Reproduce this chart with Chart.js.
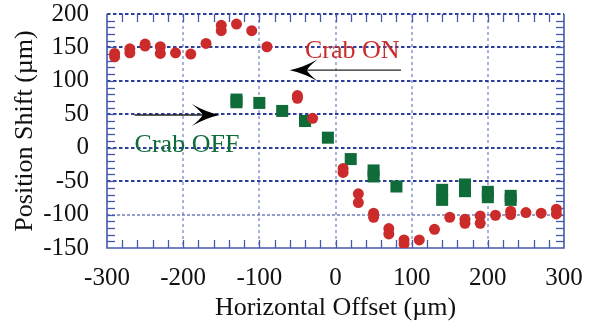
<!DOCTYPE html>
<html>
<head>
<meta charset="utf-8">
<script src="https://cdn.jsdelivr.net/npm/chart.js@4.4.1/dist/chart.umd.min.js"></script>
<style>
  html, body { margin: 0; padding: 0; background: #fff; }
</style>
</head>
<body>
<canvas id="c" width="596" height="326"></canvas>
<script>
// ── data (µm) ──
const crabOnX = [-290, -290, -270, -270, -250, -250, -230, -230, -210, -190, -170, -150, -150, -130, -110, -90,
                 -50, -50, -30, 10, 10, 30, 30, 50, 50, 70, 70, 90, 90, 110, 130, 150, 170, 170, 190, 190,
                 210, 230, 230, 250, 270, 290, 290];
const crabOnY = [141, 136, 148, 142, 155, 152, 151, 141, 142, 140, 156, 183, 175, 185, 175, 151,
                 78, 74, 44, -31, -37, -69, -82, -98, -104, -121, -129, -138, -144, -138, -122, -104, -107, -113, -102, -113,
                 -101, -95, -100, -97, -98, -92, -99];

const crabOffX = [-130, -130, -100, -70, -40, -10, 20, 50, 50, 80, 140, 140, 170, 170, 200, 200, 230, 230];
const crabOffY = [72, 68, 67, 55, 40, 15, -17, -34, -43, -58, -63, -78, -55, -65, -66, -74, -72, -78];

const xTicks = [-300, -200, -100, 0, 100, 200, 300];
const yTicks = [-150, -100, -50, 0, 50, 100, 150, 200];

// annotations: label text, anchor (centre x, baseline y) and arrows (from -> to)
const labelText = ['Crab ON', 'Crab OFF'];
const labelX = [22, -195];
const labelY = [134, -7];
const arrowFromX = [86, -264];
const arrowToX = [-60, -152];
const arrowY = [116, 49];

const RED = '#cc2b2b';
const GREEN = '#0f6b38';
const FONT = '"Liberation Serif", "Times New Roman", serif';

const toPts = (xs, ys) => xs.map((x, i) => ({ x, y: ys[i] }));

function line(ctx, x1, y1, x2, y2) {
  ctx.beginPath();
  ctx.moveTo(x1, y1);
  ctx.lineTo(x2, y2);
  ctx.stroke();
}

// grid, frame and minor ticks, drawn from the scales
const framePlugin = {
  id: 'frame',
  beforeDatasetsDraw(chart) {
    const { ctx, chartArea: a, scales: { x, y } } = chart;
    ctx.save();
    // light vertical dashed grid
    ctx.strokeStyle = '#a7b2de';
    ctx.lineWidth = 2;
    ctx.setLineDash([3, 3]);
    for (const v of xTicks.slice(1, -1)) {
      const px = Math.round(x.getPixelForValue(v));
      line(ctx, px, a.top, px, a.bottom);
    }
    // dark horizontal dashed grid
    ctx.strokeStyle = '#2c3f9c';
    for (const v of yTicks.slice(1)) {
      const py = Math.round(y.getPixelForValue(v));
      ctx.lineWidth = v === -100 ? 1.2 : 2.2;
      ctx.setLineDash(v === -100 ? [3, 2] : [3.5, 2.5]);
      line(ctx, a.left, py, a.right, py);
    }
    // solid frame (left, bottom, right)
    ctx.setLineDash([]);
    ctx.strokeStyle = '#4458ab';
    ctx.lineWidth = 1.6;
    ctx.beginPath();
    ctx.moveTo(a.left, a.top);
    ctx.lineTo(a.left, a.bottom);
    ctx.lineTo(a.right, a.bottom);
    ctx.lineTo(a.right, a.top);
    ctx.stroke();
    // minor ticks, pointing inward
    ctx.lineWidth = 1.3;
    const tl = 8;
    for (let v = y.min + 10; v < y.max; v += 10) {
      const py = Math.round(y.getPixelForValue(v)) + 0.5;
      line(ctx, a.left, py, a.left + tl, py);
      line(ctx, a.right - tl, py, a.right, py);
    }
    for (let v = x.min + 20; v < x.max; v += 20) {
      const px = Math.round(x.getPixelForValue(v)) + 0.5;
      line(ctx, px, a.top, px, a.top + tl);
      line(ctx, px, a.bottom - tl, px, a.bottom);
    }
    ctx.restore();
  },
  afterDatasetsDraw(chart) {
    const { ctx, scales: { x, y } } = chart;
    ctx.save();
    // arrows
    for (let i = 0; i < arrowY.length; i++) {
      const x1 = x.getPixelForValue(arrowFromX[i]);
      const x2 = x.getPixelForValue(arrowToX[i]);
      const py = y.getPixelForValue(arrowY[i]);
      const dir = Math.sign(x2 - x1);
      ctx.strokeStyle = '#222';
      ctx.lineWidth = 1.4;
      line(ctx, x1, py, x2 - dir * 14, py);
      // barbed head
      ctx.fillStyle = '#000';
      ctx.beginPath();
      ctx.moveTo(x2, py);
      ctx.quadraticCurveTo(x2 - dir * 14, py - 3, x2 - dir * 28, py - 11);
      ctx.quadraticCurveTo(x2 - dir * 19, py - 4, x2 - dir * 17, py);
      ctx.quadraticCurveTo(x2 - dir * 19, py + 4, x2 - dir * 28, py + 11);
      ctx.quadraticCurveTo(x2 - dir * 14, py + 3, x2, py);
      ctx.fill();
    }
    // labels
    ctx.font = '26px ' + FONT;
    ctx.textAlign = 'center';
    ctx.textBaseline = 'alphabetic';
    const cols = [RED, GREEN];
    for (let i = 0; i < labelText.length; i++) {
      ctx.fillStyle = cols[i];
      ctx.fillText(labelText[i], x.getPixelForValue(labelX[i]), y.getPixelForValue(labelY[i]));
    }
    ctx.restore();
  }
};

new Chart(document.getElementById('c'), {
  type: 'scatter',
  data: {
    datasets: [
      {
        label: 'Crab ON',
        data: toPts(crabOnX, crabOnY),
        pointStyle: 'circle',
        pointRadius: 5.5,
        backgroundColor: RED,
        borderWidth: 0,
      },
      {
        label: 'Crab OFF',
        data: toPts(crabOffX, crabOffY),
        pointStyle: 'rect',
        pointRadius: 8.5,
        backgroundColor: GREEN,
        borderWidth: 0,
      },
    ],
  },
  options: {
    responsive: false,
    animation: false,
    layout: { padding: { top: 14, right: 32, left: 0, bottom: 0 } },
    plugins: { legend: { display: false }, tooltip: { enabled: false } },
    scales: {
      x: {
        type: 'linear',
        min: -300, max: 300,
        afterFit: s => { s.height = 78; s.paddingLeft = 0; s.paddingRight = 0; },
        afterBuildTicks: s => { s.ticks = xTicks.map(v => ({ value: v })); },
        grid: { display: false, drawTicks: false },
        border: { display: false },
        ticks: { color: '#111', padding: 15, autoSkip: false, maxRotation: 0, font: { family: FONT, size: 25 } },
        title: {
          display: true, text: 'Horizontal Offset (µm)', color: '#111',
          font: { family: FONT, size: 26 }, padding: { top: 0, bottom: 2 },
        },
      },
      y: {
        type: 'linear',
        min: -150, max: 200,
        afterFit: s => { s.width = 107; s.paddingTop = 0; s.paddingBottom = 0; },
        afterBuildTicks: s => { s.ticks = yTicks.map(v => ({ value: v })); },
        grid: { display: false, drawTicks: false },
        border: { display: false },
        ticks: { color: '#111', padding: 18, autoSkip: false, font: { family: FONT, size: 25 } },
        title: {
          display: true, text: 'Position Shift (µm)', color: '#111',
          font: { family: FONT, size: 26 }, padding: { top: 10, bottom: 0 },
        },
      },
    },
  },
  plugins: [framePlugin],
});
</script>
</body>
</html>
